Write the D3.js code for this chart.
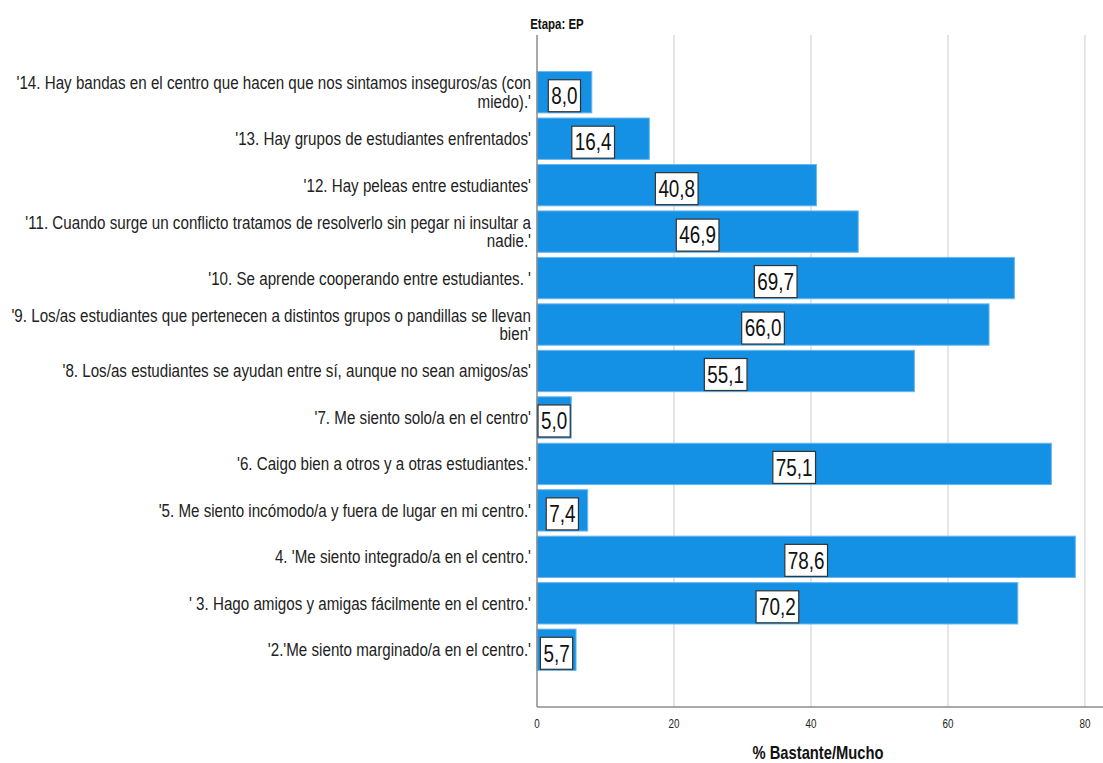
<!DOCTYPE html>
<html>
<head>
<meta charset="utf-8">
<script src="https://cdn.jsdelivr.net/npm/d3@7"></script>
<style>
  html, body { margin: 0; padding: 0; background: #fff; }
  svg { display: block; }
  .narrow { font-family: "Liberation Sans Narrow", "Arial Narrow", "Liberation Sans", Arial, sans-serif; }
</style>
</head>
<body>
<svg id="chart" width="1103" height="763"></svg>
<script>
const title = "Etapa: EP";
const xTitle = "% Bastante/Mucho";
const categories = [
  "'14. Hay bandas en el centro que hacen que nos sintamos inseguros/as (con\nmiedo).'",
  "'13. Hay grupos de estudiantes enfrentados'",
  "'12. Hay peleas entre estudiantes'",
  "'11. Cuando surge un conflicto tratamos de resolverlo sin pegar ni insultar a\nnadie.'",
  "'10. Se aprende cooperando entre estudiantes. '",
  "'9. Los/as estudiantes que pertenecen a distintos grupos o pandillas se llevan\nbien'",
  "'8. Los/as estudiantes se ayudan entre sí, aunque no sean amigos/as'",
  "'7. Me siento solo/a en el centro'",
  "'6. Caigo bien a otros y a otras estudiantes.'",
  "'5. Me siento incómodo/a y fuera de lugar en mi centro.'",
  "4. 'Me siento integrado/a en el centro.'",
  "' 3. Hago amigos y amigas fácilmente en el centro.'",
  "'2.'Me siento marginado/a en el centro.'"
];
const values = [8.0, 16.4, 40.8, 46.9, 69.7, 66.0, 55.1, 5.0, 75.1, 7.4, 78.6, 70.2, 5.7];
const xTicks = [0, 20, 40, 60, 80];

const SX = 0.82; // horizontal condensation to mimic a narrow typeface
const svg = d3.select("#chart");
const pLeft = 537, pRight = 1100, pTop = 35, pBottom = 707;

const x = d3.scaleLinear().domain([0, 82.2]).range([pLeft, pRight]);
const y = d3.scaleBand().domain(categories).range([69, 673]).paddingInner(0.11).paddingOuter(0.055);

// gridlines
svg.append("g").selectAll("line").data(xTicks.filter(d => d > 0)).join("line")
  .attr("x1", d => x(d)).attr("x2", d => x(d))
  .attr("y1", pTop).attr("y2", pBottom)
  .attr("stroke", "#d4d4d4").attr("stroke-width", 1.2);

// bars
const fmt = v => v.toFixed(1).replace(".", ",");
svg.append("g").selectAll("rect").data(values).join("rect")
  .attr("x", x(0))
  .attr("y", (d, i) => y(categories[i]))
  .attr("width", d => x(d) - x(0))
  .attr("height", y.bandwidth())
  .attr("fill", "#1490e4")
  .attr("stroke", "#6bb7ee").attr("stroke-width", 1);

// axes lines
svg.append("line").attr("x1", pLeft).attr("x2", pLeft).attr("y1", pTop).attr("y2", pBottom)
  .attr("stroke", "#8c8c8c").attr("stroke-width", 1.5);
svg.append("line").attr("x1", pLeft).attr("x2", pRight + 3).attr("y1", pBottom).attr("y2", pBottom)
  .attr("stroke", "#8c8c8c").attr("stroke-width", 1.5);

// x tick labels
svg.append("g").selectAll("text").data(xTicks).join("text")
  .attr("class", "narrow")
  .attr("transform", d => `translate(${x(d)},728) scale(${SX},1)`)
  .attr("text-anchor", "middle")
  .attr("font-size", 12).attr("fill", "#222")
  .text(d => d);

// value labels
const lg = svg.append("g").selectAll("g").data(values).join("g")
  .attr("transform", (d, i) => `translate(${x(d / 2)},${y(categories[i]) + y.bandwidth() / 2 + 3.5})`);
lg.each(function(d) {
  const g = d3.select(this);
  const t = g.append("text").attr("class", "narrow")
    .attr("transform", `scale(${SX},1)`)
    .attr("text-anchor", "middle").attr("dy", "0.36em")
    .attr("font-size", 23).attr("fill", "#111").text(fmt(d));
  const w = t.node().getComputedTextLength() * SX;
  g.insert("rect", "text")
    .attr("x", -w / 2 - 3).attr("y", -16).attr("width", w + 6).attr("height", 32)
    .attr("fill", "#fff").attr("stroke", "#333").attr("stroke-width", 1.2);
});

// category labels
const cl = svg.append("g").selectAll("text").data(categories).join("text")
  .attr("class", "narrow")
  .attr("text-anchor", "end")
  .attr("font-size", 18.5).attr("fill", "#222")
  .attr("transform", d => `translate(531,${y(d) + y.bandwidth() / 2}) scale(${SX},1)`);
cl.each(function(d) {
  const lines = d.split("\n");
  const t = d3.select(this);
  const lh = 18.5;
  lines.forEach((ln, k) => {
    t.append("tspan").attr("x", 0)
      .attr("y", (k - (lines.length - 1) / 2) * lh)
      .attr("dy", "0.35em").text(ln);
  });
});

// titles
svg.append("text").attr("class", "narrow")
  .attr("transform", `translate(557,29) scale(${SX},1)`)
  .attr("text-anchor", "middle")
  .attr("font-size", 14).attr("font-weight", "bold").attr("fill", "#111")
  .text(title);
svg.append("text").attr("class", "narrow")
  .attr("transform", `translate(818,759) scale(${SX},1)`)
  .attr("text-anchor", "middle")
  .attr("font-size", 18).attr("font-weight", "bold").attr("fill", "#111")
  .text(xTitle);
</script>
</body>
</html>
